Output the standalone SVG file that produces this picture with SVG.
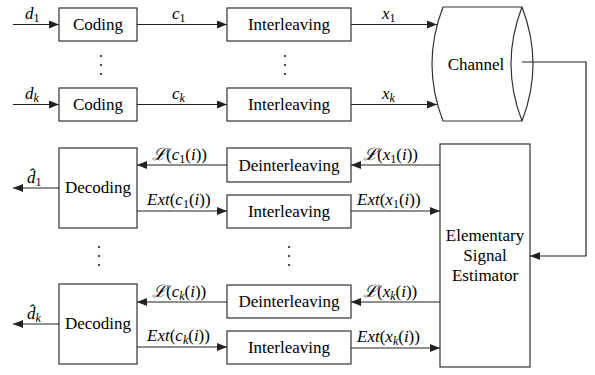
<svg xmlns="http://www.w3.org/2000/svg" width="595" height="375" viewBox="0 0 595 375">
<style>
.box{fill:#fff;stroke:#333;stroke-width:1.2}
.c line,.c path{stroke:#222;stroke-width:1.2;fill:none}
.a{marker-end:url(#ah)}
.dot{fill:#222}
</style>
<defs>
<marker id="ah" markerWidth="10" markerHeight="8" refX="10" refY="4" orient="auto" markerUnits="userSpaceOnUse">
<path d="M0,0 L10,4 L0,8 Z" fill="#222"/>
</marker>
</defs>
<rect width="595" height="375" fill="#fff"/>

<g id="coding1"><rect class="box" x="59" y="8" width="78" height="33"/><text font-family="Liberation Serif" font-size="17" text-anchor="middle" x="98" y="30">Coding</text></g>
<g id="codingk"><rect class="box" x="59" y="88" width="78" height="33"/><text font-family="Liberation Serif" font-size="17" text-anchor="middle" x="98" y="110">Coding</text></g>
<g id="interleave1"><rect class="box" x="227" y="8" width="124" height="33"/><text font-family="Liberation Serif" font-size="17" text-anchor="middle" x="289" y="30">Interleaving</text></g>
<g id="interleavek"><rect class="box" x="227" y="88" width="124" height="33"/><text font-family="Liberation Serif" font-size="17" text-anchor="middle" x="289" y="110">Interleaving</text></g>
<g id="channel">
<path class="box" d="M443,7 L522,7 Q544,64 522,121 L443,121 Q421,64 443,7 Z"/>
<path d="M522,7 Q500,64 522,121" fill="none" stroke="#333" stroke-width="1.2"/>
<text font-family="Liberation Serif" font-size="17" text-anchor="middle" x="476" y="70">Channel</text>
</g>
<g id="decoding1"><rect class="box" x="59" y="148" width="78" height="80"/><text font-family="Liberation Serif" font-size="17" text-anchor="middle" x="98" y="193">Decoding</text></g>
<g id="decodingk"><rect class="box" x="59" y="284" width="78" height="80"/><text font-family="Liberation Serif" font-size="17" text-anchor="middle" x="98" y="329">Decoding</text></g>
<g id="deinterleave1"><rect class="box" x="227" y="148" width="124" height="34"/><text font-family="Liberation Serif" font-size="17" text-anchor="middle" x="289" y="171">Deinterleaving</text></g>
<g id="interleave2"><rect class="box" x="227" y="195" width="124" height="33"/><text font-family="Liberation Serif" font-size="17" text-anchor="middle" x="289" y="217">Interleaving</text></g>
<g id="deinterleavek"><rect class="box" x="227" y="285" width="124" height="33"/><text font-family="Liberation Serif" font-size="17" text-anchor="middle" x="289" y="307">Deinterleaving</text></g>
<g id="interleave3"><rect class="box" x="227" y="331" width="124" height="33"/><text font-family="Liberation Serif" font-size="17" text-anchor="middle" x="289" y="353">Interleaving</text></g>
<g id="estimator"><rect class="box" x="440" y="144" width="90" height="223"/>
<text font-family="Liberation Serif" font-size="17" text-anchor="middle" x="485" y="241">Elementary</text>
<text font-family="Liberation Serif" font-size="17" text-anchor="middle" x="485" y="261">Signal</text>
<text font-family="Liberation Serif" font-size="17" text-anchor="middle" x="485" y="281">Estimator</text>
</g>

<g id="connectors" class="c">
<line class="a" x1="13" y1="24.5" x2="59" y2="24.5"/>
<line class="a" x1="13" y1="104.5" x2="59" y2="104.5"/>
<line class="a" x1="137" y1="24.5" x2="227" y2="24.5"/>
<line class="a" x1="137" y1="104.5" x2="227" y2="104.5"/>
<line class="a" x1="351" y1="24.5" x2="437" y2="24.5"/>
<line class="a" x1="351" y1="104.5" x2="437" y2="104.5"/>
<path class="a" d="M522,62 L586,62 L586,256 L530,256"/>
<line class="a" x1="440" y1="165" x2="351" y2="165"/>
<line class="a" x1="351" y1="211" x2="440" y2="211"/>
<line class="a" x1="227" y1="165" x2="137" y2="165"/>
<line class="a" x1="137" y1="211" x2="227" y2="211"/>
<line class="a" x1="59" y1="188" x2="13" y2="188"/>
<line class="a" x1="440" y1="302" x2="351" y2="302"/>
<line class="a" x1="351" y1="348" x2="440" y2="348"/>
<line class="a" x1="227" y1="302" x2="137" y2="302"/>
<line class="a" x1="137" y1="347" x2="227" y2="347"/>
<line class="a" x1="59" y1="324" x2="13" y2="324"/>
</g>

<g id="labels">
<text font-family="Liberation Serif" font-size="17" x="25" y="19"><tspan font-style="italic">d</tspan><tspan font-size="12" dy="3">1</tspan></text>
<text font-family="Liberation Serif" font-size="17" x="25" y="99"><tspan font-style="italic">d</tspan><tspan font-size="12" font-style="italic" dy="3">k</tspan></text>
<text font-family="Liberation Serif" font-size="17" x="172" y="19"><tspan font-style="italic">c</tspan><tspan font-size="12" dy="3">1</tspan></text>
<text font-family="Liberation Serif" font-size="17" x="172" y="99"><tspan font-style="italic">c</tspan><tspan font-size="12" font-style="italic" dy="3">k</tspan></text>
<text font-family="Liberation Serif" font-size="17" x="382" y="19"><tspan font-style="italic">x</tspan><tspan font-size="12" dy="3">1</tspan></text>
<text font-family="Liberation Serif" font-size="17" x="382" y="99"><tspan font-style="italic">x</tspan><tspan font-size="12" font-style="italic" dy="3">k</tspan></text>
<text font-family="Liberation Serif" font-size="17" x="27" y="183"><tspan font-style="italic">d̂</tspan><tspan font-size="12" dy="3">1</tspan></text>
<text font-family="Liberation Serif" font-size="17" x="27" y="319"><tspan font-style="italic">d̂</tspan><tspan font-size="12" font-style="italic" dy="3">k</tspan></text>
<text font-family="Liberation Serif" font-size="17" x="152" y="160"><tspan font-style="italic">ℒ</tspan>(<tspan font-style="italic">c</tspan><tspan font-size="12" dy="3">1</tspan><tspan dy="-3">(</tspan><tspan font-style="italic">i</tspan>))</text>
<text font-family="Liberation Serif" font-size="17" x="147" y="205"><tspan font-style="italic">Ext</tspan>(<tspan font-style="italic">c</tspan><tspan font-size="12" dy="3">1</tspan><tspan dy="-3">(</tspan><tspan font-style="italic">i</tspan>))</text>
<text font-family="Liberation Serif" font-size="17" x="363" y="160"><tspan font-style="italic">ℒ</tspan>(<tspan font-style="italic">x</tspan><tspan font-size="12" dy="3">1</tspan><tspan dy="-3">(</tspan><tspan font-style="italic">i</tspan>))</text>
<text font-family="Liberation Serif" font-size="17" x="357" y="205"><tspan font-style="italic">Ext</tspan>(<tspan font-style="italic">x</tspan><tspan font-size="12" dy="3">1</tspan><tspan dy="-3">(</tspan><tspan font-style="italic">i</tspan>))</text>
<text font-family="Liberation Serif" font-size="17" x="152" y="297"><tspan font-style="italic">ℒ</tspan>(<tspan font-style="italic">c</tspan><tspan font-size="12" font-style="italic" dy="3">k</tspan><tspan dy="-3">(</tspan><tspan font-style="italic">i</tspan>))</text>
<text font-family="Liberation Serif" font-size="17" x="147" y="341"><tspan font-style="italic">Ext</tspan>(<tspan font-style="italic">c</tspan><tspan font-size="12" font-style="italic" dy="3">k</tspan><tspan dy="-3">(</tspan><tspan font-style="italic">i</tspan>))</text>
<text font-family="Liberation Serif" font-size="17" x="363" y="297"><tspan font-style="italic">ℒ</tspan>(<tspan font-style="italic">x</tspan><tspan font-size="12" font-style="italic" dy="3">k</tspan><tspan dy="-3">(</tspan><tspan font-style="italic">i</tspan>))</text>
<text font-family="Liberation Serif" font-size="17" x="357" y="342"><tspan font-style="italic">Ext</tspan>(<tspan font-style="italic">x</tspan><tspan font-size="12" font-style="italic" dy="3">k</tspan><tspan dy="-3">(</tspan><tspan font-style="italic">i</tspan>))</text>
</g>

<g id="ellipses">
<circle class="dot" cx="101" cy="56" r="1.1"/><circle class="dot" cx="101" cy="65" r="1.1"/><circle class="dot" cx="101" cy="74" r="1.1"/>
<circle class="dot" cx="285" cy="56" r="1.1"/><circle class="dot" cx="285" cy="65" r="1.1"/><circle class="dot" cx="285" cy="74" r="1.1"/>
<circle class="dot" cx="99" cy="247" r="1.1"/><circle class="dot" cx="99" cy="256" r="1.1"/><circle class="dot" cx="99" cy="265" r="1.1"/>
<circle class="dot" cx="289" cy="247" r="1.1"/><circle class="dot" cx="289" cy="256" r="1.1"/><circle class="dot" cx="289" cy="265" r="1.1"/>
</g>
</svg>
